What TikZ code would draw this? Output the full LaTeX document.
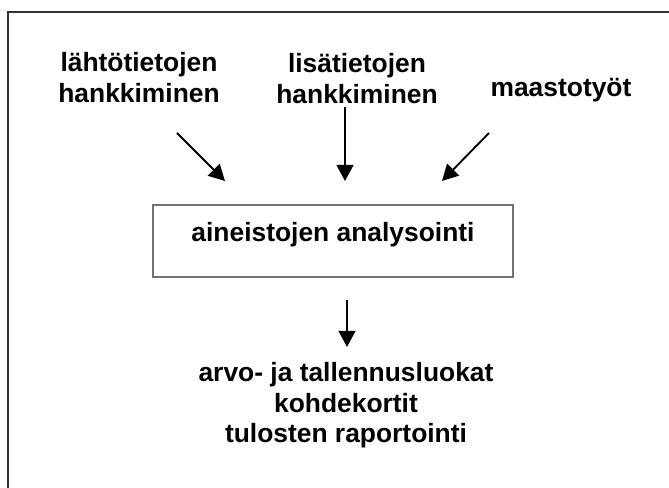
\documentclass[tikz,border=0pt]{standalone}
\usepackage{fontspec}
\setmainfont{Liberation Sans}
\usetikzlibrary{arrows.meta}

\begin{document}
\begin{tikzpicture}[x=0.75pt,y=-0.75pt,
    txt/.style={font=\fontsize{19.8}{23}\selectfont\bfseries,inner sep=0pt},
    lines/.style={align=center},
    arr/.style={-{Triangle[length=12pt,width=12.5pt]},line width=1.4pt}]
	\useasboundingbox (0,0) rectangle (669,488);
	\draw[line width=1.6pt,black!80] (8,488) -- (8,12) -- (669,12);

	\node[txt,lines,anchor=north] (lahto) at (139,52) {lähtötietojen\\hankkiminen};
	\node[txt,lines,anchor=north] (lisa) at (357,53) {lisätietojen\\hankkiminen};
	\node[txt,anchor=base] (maasto) at (561,97) {maastotyöt};
	\node[txt,draw=black!55,line width=0.8pt,minimum width=270pt,text height=27.75pt,text depth=26.25pt,anchor=base] (analyysi) at (333,242) {aineistojen analysointi};
	\node[txt,lines,anchor=north] (tulos) at (346,362) {arvo- ja tallennusluokat\\kohdekortit\\tulosten raportointi};

	\coordinate (s1) at (177,133); \coordinate (t1) at (225,181);
	\coordinate (s2) at (345,107); \coordinate (t2) at (345,181);
	\coordinate (s3) at (489,133); \coordinate (t3) at (442,181);
	\coordinate (s4) at (347,300); \coordinate (t4) at (347,347);

	\path[arr] (s1) edge (t1);
	\path[arr] (s2) edge (t2);
	\path[arr] (s3) edge (t3);
	\path[arr] (s4) edge (t4);
\end{tikzpicture}
\end{document}
